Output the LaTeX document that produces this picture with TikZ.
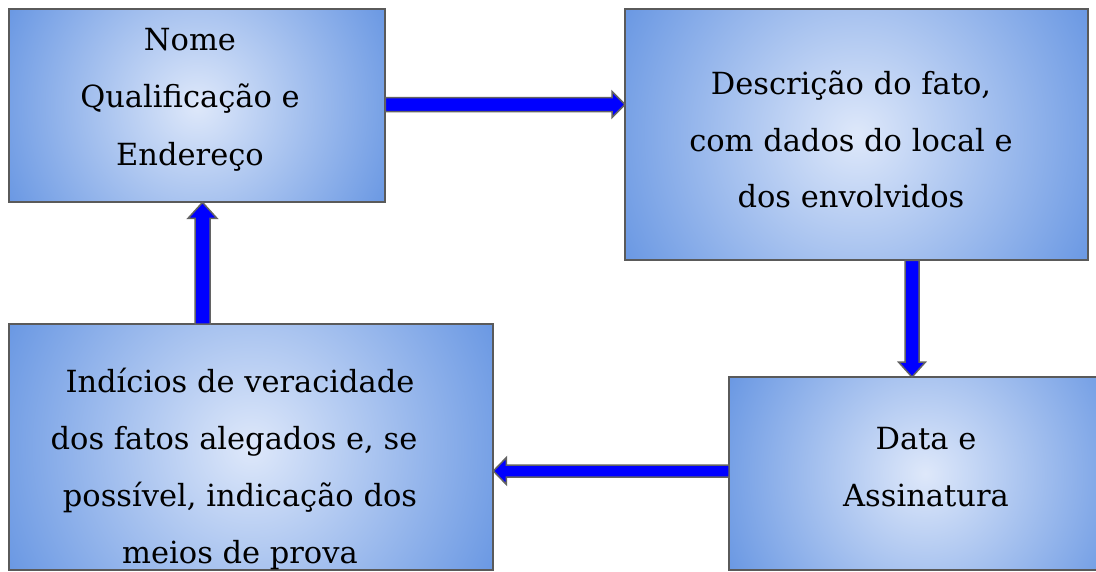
\documentclass[tikz,border=0pt]{standalone}
\usepackage{fontspec}
\setmainfont{DejaVu Serif}
\usetikzlibrary{calc}
\definecolor{boxin}{HTML}{DEE8FA}
\definecolor{boxout}{HTML}{6A98E3}
\definecolor{boxline}{HTML}{5A5A5A}
\definecolor{arrline}{HTML}{636363}
\tikzset{
  box/.style={anchor=north west, inner sep=0pt},
  boxborder/.style={draw=boxline, line width=2pt},
  txt/.style={anchor=base, inner sep=0pt, font=\fontsize{30.5}{36}\selectfont},
  barrow/.style={fill=blue, draw=arrline, line width=1.5pt, line join=miter},
}
\newcommand\shadebox[1]{%
  \begin{scope}
    \clip (#1.north west) rectangle (#1.south east);
    \shade[inner color=boxin, outer color=boxout]
      let \p1=($(#1.north east)-(#1.center)$), \n1={veclen(\x1,\y1)} in
      (#1.center) circle [radius=\n1];
  \end{scope}
  \draw[boxborder] (#1.north west) rectangle (#1.south east);
}
\begin{document}
\begin{tikzpicture}[x=1pt,y=-1pt]
\useasboundingbox (0,0) rectangle (1096,571);
% boxes
\node[box, minimum width=376pt, minimum height=193pt] (b1) at (9,9) {};
\node[box, minimum width=463pt, minimum height=251pt] (b2) at (625,9) {};
\node[box, minimum width=392pt, minimum height=193pt] (b3) at (729,377) {};
\node[box, minimum width=484pt, minimum height=246pt] (b4) at (9,324) {};
\shadebox{b1}
\shadebox{b2}
\shadebox{b3}
\shadebox{b4}
% texts
\node[txt] (t11) at (190,50) {Nome};
\node[txt] (t12) at (190,107) {Qualificação e};
\node[txt] (t13) at (190,165) {Endereço};
\node[txt] (t21) at (851,94) {Descrição do fato,};
\node[txt] (t22) at (851,151) {com dados do local e};
\node[txt] (t23) at (851,207) {dos envolvidos};
\node[txt] (t31) at (926,449) {Data e};
\node[txt] (t32) at (926,506) {Assinatura};
\node[txt] (t41) at (240,392) {Indícios de veracidade};
\node[txt] (t42) at (234,449) {dos fatos alegados e, se};
\node[txt] (t43) at (240,506) {possível, indicação dos};
\node[txt] (t44) at (240,563) {meios de prova};
% connector reference rows/columns
\coordinate (r1) at (0,104.5);
\coordinate (c2) at (202.5,0);
\coordinate (r3) at (0,471);
\coordinate (c4) at (912,0);
\coordinate (a1s) at (b1.east |- r1);
\coordinate (a1e) at (b2.west |- r1);
\coordinate (a2s) at (b4.north -| c2);
\coordinate (a2e) at (b1.south -| c2);
\coordinate (a3s) at (b3.west |- r3);
\coordinate (a3e) at (b4.east |- r3);
\coordinate (a4s) at (b2.south -| c4);
\coordinate (a4e) at (b3.north -| c4);
% arrows
\draw[barrow] ($(a1s)+(0,-7)$) -- ($(a1e)+(-13,-7)$) -- ($(a1e)+(-13,-13)$) -- (a1e)
  -- ($(a1e)+(-13,13)$) -- ($(a1e)+(-13,7)$) -- ($(a1s)+(0,7)$) -- cycle;
\draw[barrow] ($(a2s)+(-7.5,0)$) -- ($(a2e)+(-7.5,16)$) -- ($(a2e)+(-14.5,16)$) -- (a2e)
  -- ($(a2e)+(14.5,16)$) -- ($(a2e)+(7.5,16)$) -- ($(a2s)+(7.5,0)$) -- cycle;
\draw[barrow] ($(a3s)+(0,-6)$) -- ($(a3e)+(13,-6)$) -- ($(a3e)+(13,-13.5)$) -- (a3e)
  -- ($(a3e)+(13,13.5)$) -- ($(a3e)+(13,6)$) -- ($(a3s)+(0,6)$) -- cycle;
\draw[barrow] ($(a4s)+(-7,0)$) -- ($(a4e)+(-7,-15)$) -- ($(a4e)+(-13.5,-15)$) -- (a4e)
  -- ($(a4e)+(13.5,-15)$) -- ($(a4e)+(7,-15)$) -- ($(a4s)+(7,0)$) -- cycle;
\end{tikzpicture}
\end{document}
